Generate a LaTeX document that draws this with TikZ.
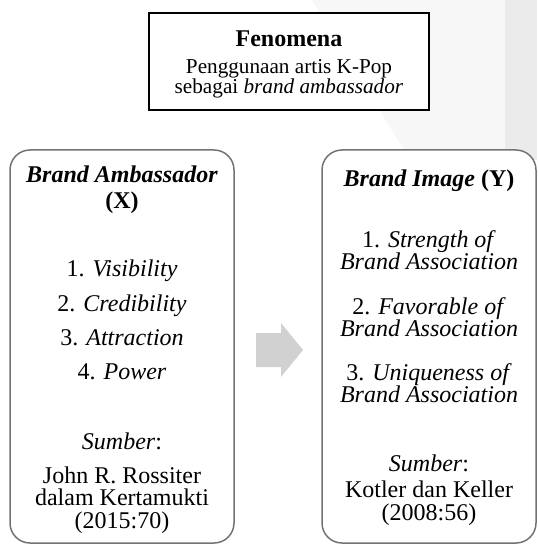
\documentclass[tikz,border=0pt]{standalone}
\usepackage{fontspec}
\setmainfont{Liberation Serif}
\usetikzlibrary{positioning}

\tikzset{
    txt/.style={anchor=base, inner sep=0pt, font=\fontsize{12}{14}\selectfont},
    smalltxt/.style={anchor=base, inner sep=0pt, font=\fontsize{10.6}{12}\selectfont},
    varbox/.style={draw=black!55, line width=0.75pt, fill=white, rounded corners=10pt},
}

\begin{document}
\begin{tikzpicture}[x=0.5pt, y=-0.5pt]
            \useasboundingbox (0, 0) rectangle (537, 545);
            % background
            \fill[black!3] (312, 0) -- (505, 0) -- (505, 160) -- (410, 160) -- cycle;
            \fill[black!8] (505, 0) rectangle (537, 160);
            % fenomena
            \draw[line width=1.3pt, fill=white] (149, 13) rectangle (429, 110);
            \node[txt] (fen) at (289, 47) {\textbf{Fenomena}};
            \node[smalltxt] (fen1) at (289, 74) {Penggunaan artis K-Pop};
            \node[smalltxt] (fen2) at (289, 94) {sebagai \textit{brand ambassador}};
            % brand ambassador (X)
            \draw[varbox] (10, 150) rectangle (234, 543);
            \node[txt] (baT) at (122, 183) {\textbf{\textit{Brand Ambassador}}};
            \node[txt] (baX) at (122, 208) {\textbf{(X)}};
            \node[txt] (ba1) at (122, 276) {1. \textit{Visibility}};
            \node[txt] (ba2) at (122, 311) {2. \textit{Credibility}};
            \node[txt] (ba3) at (122, 345) {3. \textit{Attraction}};
            \node[txt] (ba4) at (122, 379) {4. \textit{Power}};
            \node[txt] (baS) at (122, 449) {\textit{Sumber}:};
            \node[txt] (baS1) at (122, 483) {John R. Rossiter};
            \node[txt] (baS2) at (122, 505) {dalam Kertamukti};
            \node[txt] (baS3) at (122, 528) {(2015:70)};
            % arrow
            \fill[black!18] (256, 333) -- (281, 333) -- (281, 323) -- (303, 350)
                -- (281, 377) -- (281, 367) -- (256, 367) -- cycle;
            % brand image (Y)
            \draw[varbox] (322, 150) rectangle (536, 543);
            \node[txt] (biT) at (429, 187) {\textbf{\textit{Brand Image} (Y)}};
            \node[txt] (bi1) at (429, 247) {1. \textit{Strength of}};
            \node[txt] (bi1b) at (429, 269) {\textit{Brand Association}};
            \node[txt] (bi2) at (429, 314) {2. \textit{Favorable of}};
            \node[txt] (bi2b) at (429, 336) {\textit{Brand Association}};
            \node[txt] (bi3) at (429, 380) {3. \textit{Uniqueness of}};
            \node[txt] (bi3b) at (429, 402) {\textit{Brand Association}};
            \node[txt] (biS) at (429, 471) {\textit{Sumber}:};
            \node[txt] (biS1) at (429, 497) {Kotler dan Keller};
            \node[txt] (biS2) at (429, 520) {(2008:56)};
        \end{tikzpicture}
\end{document}
